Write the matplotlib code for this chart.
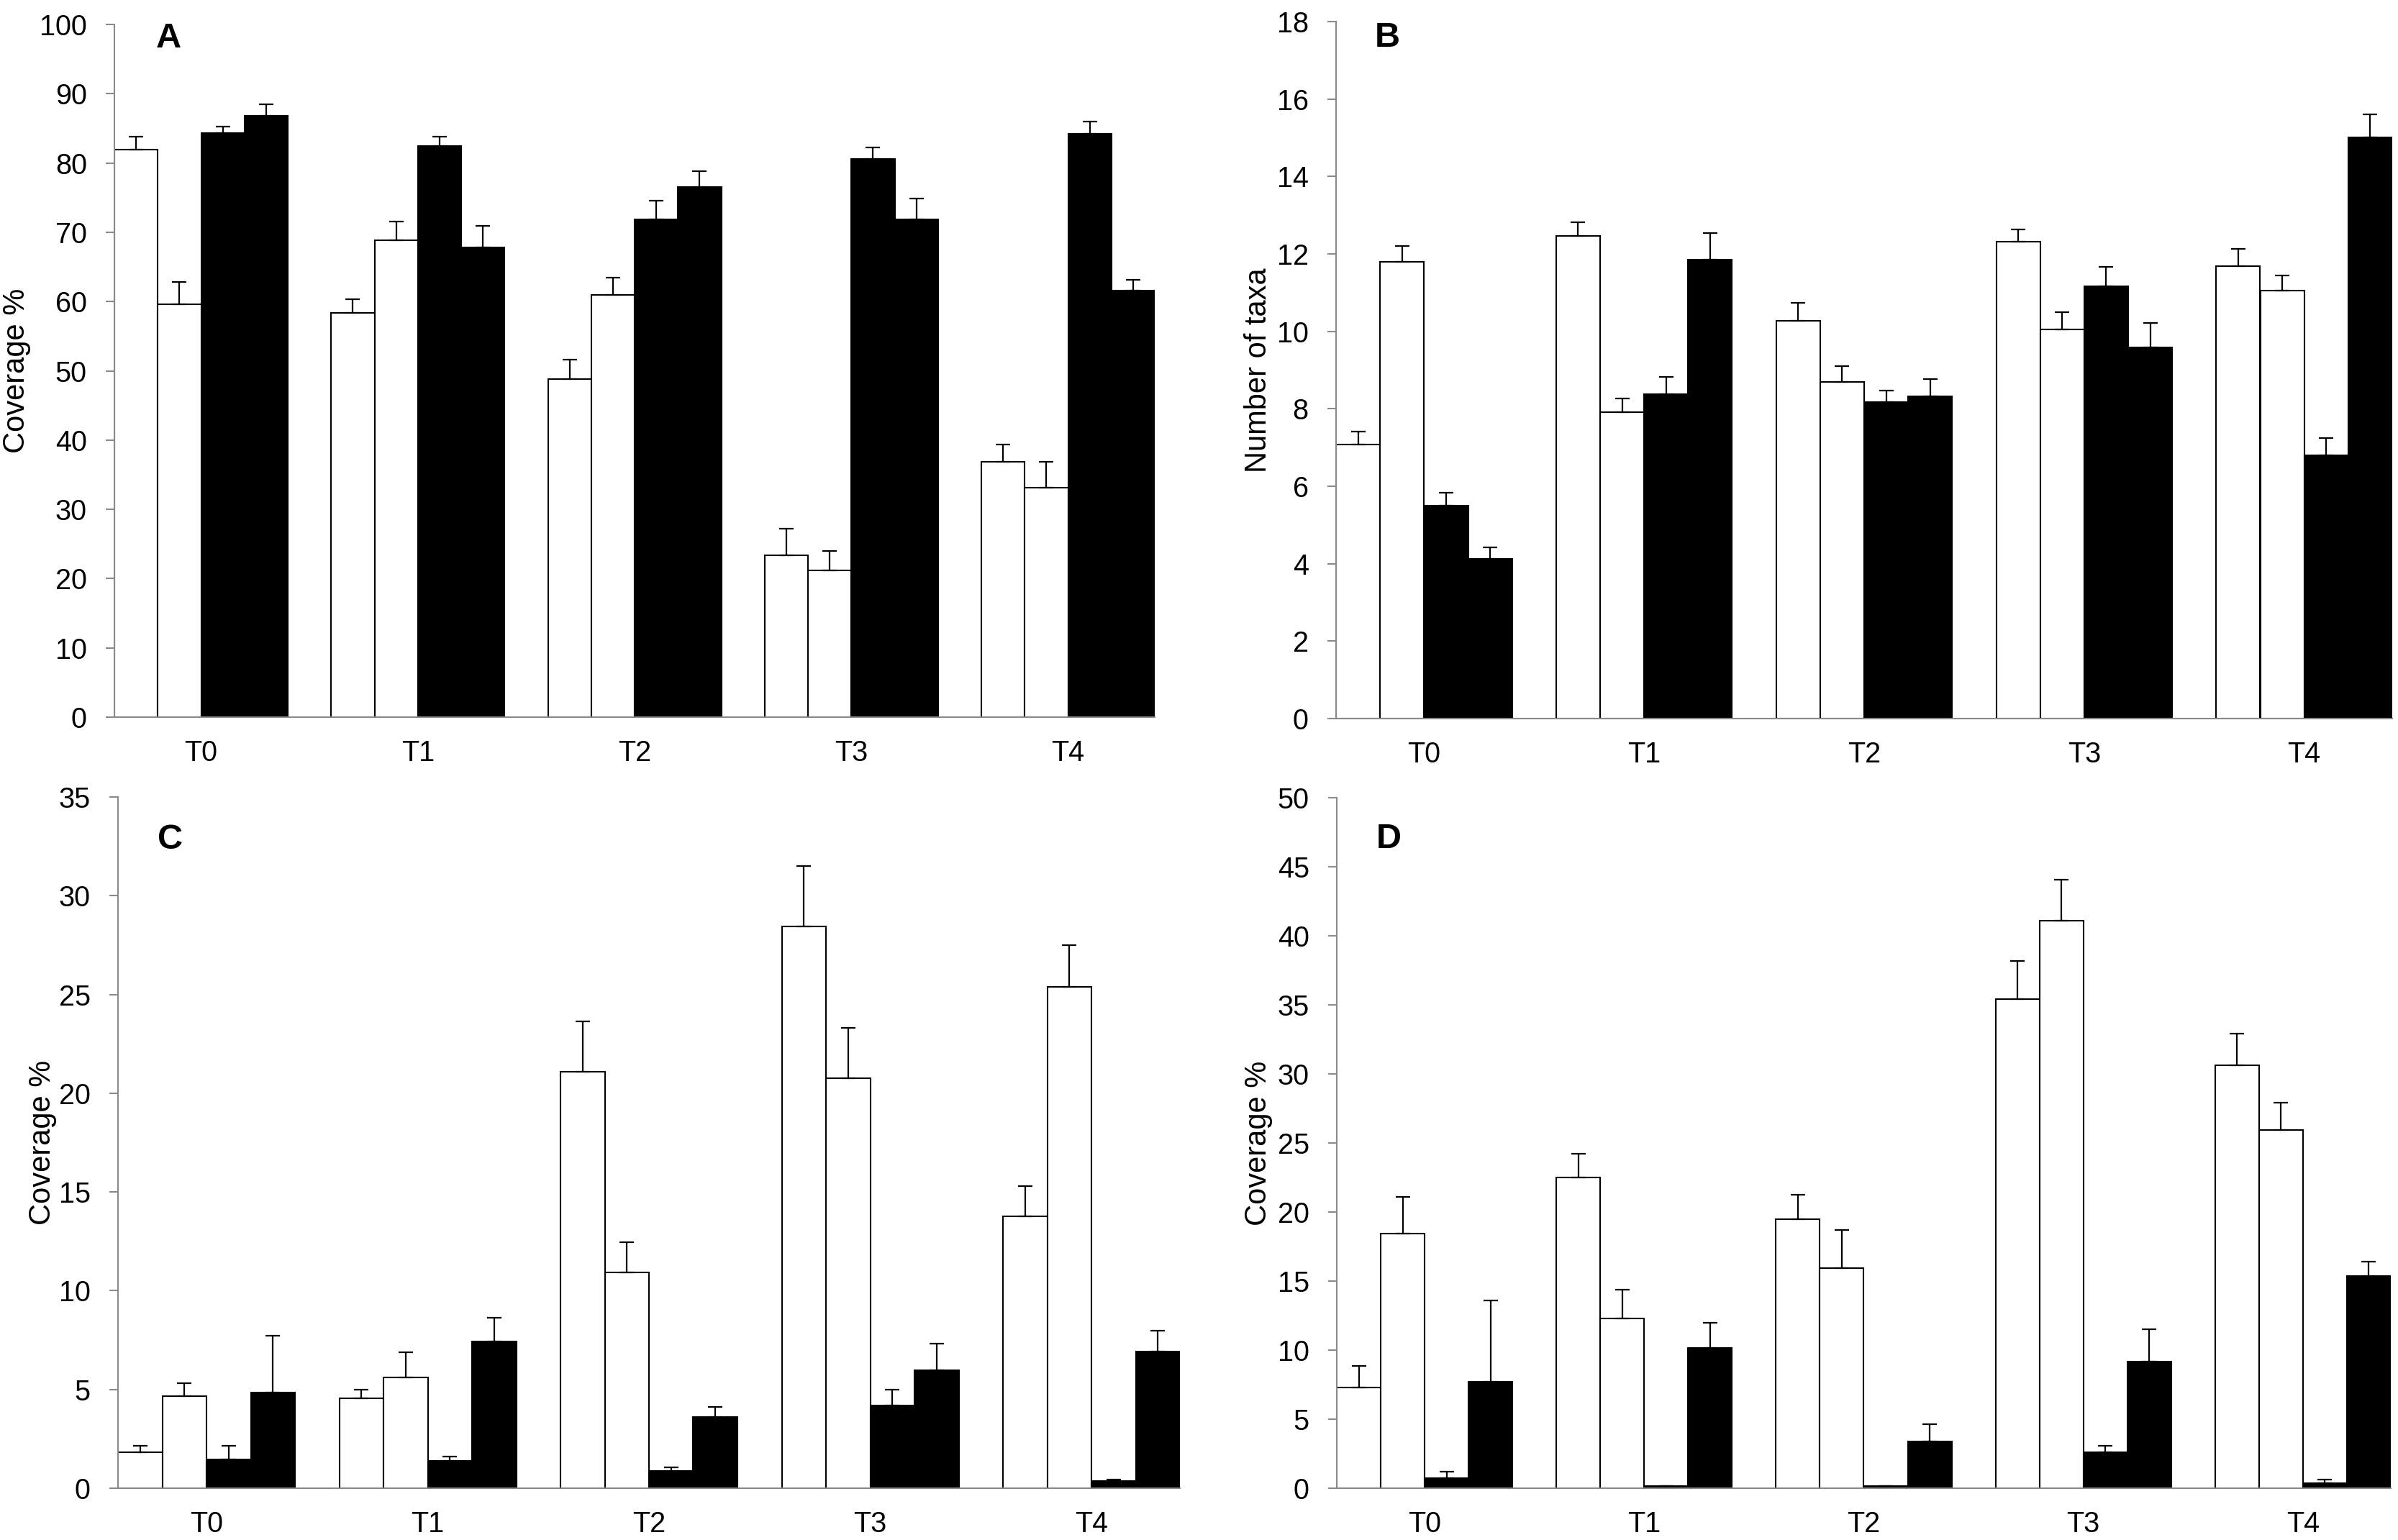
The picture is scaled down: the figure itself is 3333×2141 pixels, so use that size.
import numpy as np
import matplotlib.pyplot as plt

plt.rcParams['font.family'] = ['Liberation Sans', 'DejaVu Sans']

groups = ['T0', 'T1', 'T2', 'T3', 'T4']
fills = ['white', 'white', 'black', 'black']

# rows = the four bars in each group, columns = T0..T4
a_means = [[81.9, 58.4, 48.8, 23.4, 36.9],
           [59.6, 68.8, 61.0, 21.2, 33.1],
           [84.3, 82.4, 71.9, 80.6, 84.2],
           [86.8, 67.8, 76.5, 71.9, 61.6]]
a_errs = [[1.9, 1.9, 2.8, 3.8, 2.5],
          [3.2, 2.7, 2.4, 2.8, 3.8],
          [1.0, 1.4, 2.7, 1.6, 1.8],
          [1.7, 3.1, 2.3, 3.0, 1.5]]

b_means = [[7.07, 12.47, 10.28, 12.31, 11.68],
           [11.80, 7.92, 8.70, 10.05, 11.06],
           [5.49, 8.37, 8.17, 11.16, 6.80],
           [4.13, 11.86, 8.33, 9.59, 15.01]]
b_errs = [[0.34, 0.35, 0.46, 0.33, 0.45],
          [0.40, 0.35, 0.40, 0.45, 0.39],
          [0.34, 0.45, 0.30, 0.51, 0.45],
          [0.30, 0.68, 0.43, 0.63, 0.60]]

c_means = [[1.82, 4.55, 21.09, 28.46, 13.76],
           [4.68, 5.62, 10.92, 20.77, 25.40],
           [1.44, 1.37, 0.87, 4.18, 0.35],
           [4.85, 7.44, 3.61, 5.97, 6.92]]
c_errs = [[0.32, 0.43, 2.54, 3.06, 1.54],
          [0.64, 1.25, 1.52, 2.54, 2.09],
          [0.70, 0.22, 0.17, 0.80, 0.07],
          [2.86, 1.19, 0.49, 1.34, 1.07]]

d_means = [[7.30, 22.48, 19.50, 35.43, 30.64],
           [18.44, 12.30, 15.92, 41.10, 25.92],
           [0.71, 0.18, 0.14, 2.62, 0.39],
           [7.70, 10.18, 3.37, 9.18, 15.35]]
d_errs = [[1.57, 1.74, 1.74, 2.73, 2.30],
          [2.66, 2.06, 2.80, 2.94, 2.02],
          [0.50, 0.0, 0.0, 0.43, 0.21],
          [5.88, 1.81, 1.28, 2.34, 1.07]]

panels = [
    # letter, means, errs, ymax, ystep, ylabel, axes box (l, r, t, b) px, ylabel x px, letter (x, baseline) px
    ('A', a_means, a_errs, 100, 10, 'Coverage %', (159, 1605, 34, 997), 23, (217, 66)),
    ('B', b_means, b_errs, 18, 2, 'Number of taxa', (1857, 3325, 30, 999), 1749, (1911, 65)),
    ('C', c_means, c_errs, 35, 5, 'Coverage %', (164, 1640, 1108, 2069), 59, (219, 1180)),
    ('D', d_means, d_errs, 50, 5, 'Coverage %', (1858, 3323, 1109, 2069), 1749, (1913, 1179)),
]

W, H = 3333, 2141
fig = plt.figure(figsize=(W / 100, H / 100), dpi=100)

grey = '#8a8a8a'
width = 0.2
x = np.arange(len(groups))

for letter, means, errs, ymax, ystep, ylabel, (l, r, t, b), lab_x, (lx, ly) in panels:
    ax = fig.add_axes([l / W, 1 - b / H, (r - l) / W, (b - t) / H])
    for i in range(4):
        pos = x - 0.3 + i * width
        ax.bar(pos, means[i], width=width, color=fills[i], edgecolor='black',
               linewidth=1.5, zorder=2)
        ax.errorbar(pos, means[i], yerr=[np.zeros(len(groups)), errs[i]],
                    fmt='none', ecolor='black', elinewidth=1.6, capsize=7,
                    capthick=1.6, zorder=3)
    ax.set_xlim(-0.4, len(groups) - 0.6)
    ax.set_ylim(0, ymax)
    ax.set_yticks(np.arange(0, ymax + ystep / 2, ystep))
    ax.set_xticks(x)
    ax.set_xticklabels(groups)
    ax.spines['top'].set_visible(False)
    ax.spines['right'].set_visible(False)
    for side in ['left', 'bottom']:
        ax.spines[side].set_color(grey)
        ax.spines[side].set_linewidth(1.5)
    ax.tick_params(axis='y', direction='out', length=8.5, width=1.5,
                   color=grey, labelsize=28.5, pad=19)
    ax.tick_params(axis='x', length=0, labelsize=28.5, pad=22)
    ax.set_ylabel(ylabel, fontsize=30, va='center')
    ax.yaxis.set_label_coords((lab_x - l) / (r - l), 0.5)
    fig.text(lx / W, 1 - ly / H, letter, fontsize=35,
             fontweight='bold', va='baseline', ha='left')

fig.savefig('out.png', dpi=100)
